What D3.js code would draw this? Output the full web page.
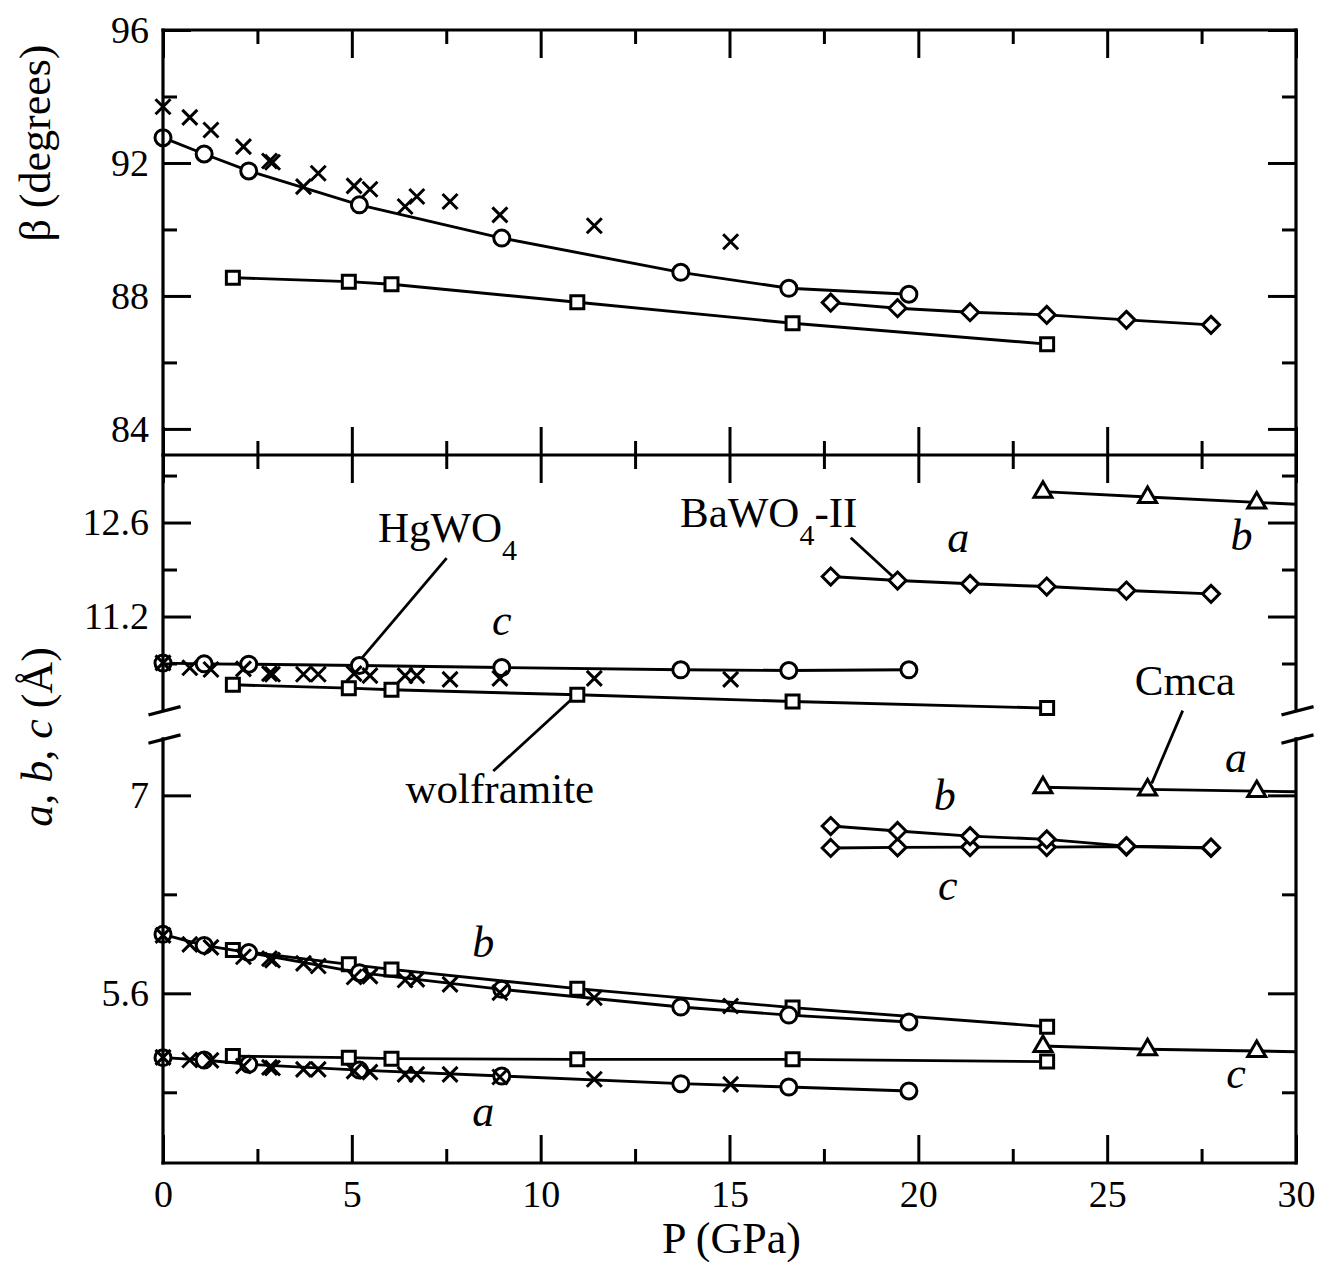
<!DOCTYPE html>
<html>
<head>
<meta charset="utf-8">
<script src="https://cdn.jsdelivr.net/npm/d3@7"></script>
<style>
body { margin: 0; background: #fff; }
svg text { font-family: "Liberation Serif", "Times New Roman", serif; fill: #000; }
</style>
</head>
<body>
<div id="myfigure"></div>
<script>
// values (P in GPa)

// HgWO4, no line (crosses)
var pCross = [0, 0.71, 1.27, 2.13, 2.82, 2.9, 3.72, 4.11, 5.06, 5.48, 6.41, 6.72, 7.6, 8.92, 11.42, 15.03];
var betaCross = [93.69, 93.37, 92.99, 92.49, 92.06, 92.02, 91.29, 91.69, 91.31, 91.21, 90.69, 90.99, 90.84, 90.44, 90.11, 89.63];
var cCross = [10.51, 10.436, 10.41, 10.42, 10.35, 10.34, 10.34, 10.34, 10.35, 10.32, 10.32, 10.32, 10.264, 10.279, 10.279, 10.264];
var bCross = [6.01, 5.946, 5.925, 5.859, 5.845, 5.835, 5.812, 5.793, 5.715, 5.722, 5.694, 5.699, 5.663, 5.605, 5.569, 5.51];
var aCross = [5.147, 5.128, 5.126, 5.086, 5.076, 5.072, 5.062, 5.062, 5.05, 5.043, 5.027, 5.027, 5.027, 5.008, 4.992, 4.956];

// HgWO4 (circles)
var pCircle = [0, 1.09, 2.27, 5.2, 8.97, 13.71, 16.57, 19.75];
var betaCircle = [92.76, 92.27, 91.76, 90.74, 89.74, 88.71, 88.23, 88.05];
var cCircle = [10.506, 10.495, 10.49, 10.47, 10.44, 10.406, 10.396, 10.406];
var bCircle = [6.017, 5.939, 5.888, 5.746, 5.628, 5.503, 5.446, 5.397];
var aCircle = [5.145, 5.128, 5.098, 5.057, 5.015, 4.961, 4.937, 4.909];

// wolframite (squares)
var pSquare = [1.85, 4.92, 6.05, 10.97, 16.67, 23.41];
var betaSquare = [88.55, 88.43, 88.35, 87.81, 87.18, 86.55];
var cSquare = [10.183, 10.133, 10.108, 10.034, 9.934, 9.836];
var bSquare = [5.906, 5.805, 5.769, 5.633, 5.499, 5.364];
var aSquare = [5.156, 5.145, 5.138, 5.133, 5.133, 5.117];

// BaWO4-II (diamonds)
var pDiamond = [17.68, 19.45, 21.37, 23.4, 25.51, 27.75];
var betaDiamond = [87.8, 87.63, 87.51, 87.43, 87.28, 87.13];
var aDiamond = [11.796, 11.736, 11.687, 11.647, 11.587, 11.538];
var bDiamond = [6.783, 6.748, 6.712, 6.689, 6.641, 6.63];
var cDiamond = [6.628, 6.632, 6.634, 6.634, 6.638, 6.628];

// Cmca (triangles), last point lies past the right edge
var pTriangle = [23.3, 26.07, 28.96, 31.5];
var bTriangle = [13.06, 12.98, 12.9, 12.83];
var aTriangle = [7.057, 7.042, 7.03, 7.018];
var cTriangle = [5.227, 5.204, 5.192, 5.18];

// ticks
var xMajor = [0, 5, 10, 15, 20, 25, 30];
var xMinor = [2.5, 7.5, 12.5, 17.5, 22.5, 27.5];
var betaMajor = [84, 88, 92, 96];
var betaMinor = [86, 90, 94];
var highMajor = [11.2, 12.6];
var highMinor = [10.5, 11.9, 13.3];
var lowMajor = [5.6, 7];
var lowMinor = [4.9, 6.3];

var width = 1324;
var height = 1262;
var left = 163, right = 1296;
var top1 = 30, mid = 455, bottom = 1163;
var breakHigh = 710.5, breakLow = 738.8;

var svg = d3.select("#myfigure").
    append("svg").
    attr("width", width).
    attr("height", height);

var x = d3.scaleLinear().domain([0, 30]).range([left, right]);
var yBeta = d3.scaleLinear().domain([83.2, 96]).range([mid + 0.5, top1]);
var yHigh = d3.scaleLinear().domain([9.8, 13.6]).range([breakHigh, mid + 0.4]);
var yLow = d3.scaleLinear().domain([4.4, 7.4]).range([bottom, breakLow]);

svg.append("clipPath").attr("id", "clip").
    append("rect").attr("x", 0).attr("y", 0).
    attr("width", right).attr("height", height);

var shapes = {
    circle: d3.symbol(d3.symbolCircle, Math.PI * 8 * 8)(),
    square: "M-6.5,-6.5H6.5V6.5H-6.5Z",
    diamond: "M0,-8.5L8.5,0L0,8.5L-8.5,0Z",
    triangle: "M0,-10L9,5.5L-9,5.5Z",
    cross: "M-7.5,-7.5L7.5,7.5M7.5,-7.5L-7.5,7.5"
};

function drawSeries(ps, vs, y, shape, withLine) {
    var pts = ps.map(function (p, i) { return [p, vs[i]]; });
    var g = svg.append("g").attr("clip-path", "url(#clip)");

    if (withLine) {
        g.append("path").
            datum(pts).
            attr("fill", "none").
            attr("stroke", "#000").
            attr("stroke-width", 2.9).
            attr("d", d3.line().
                x(function (d) { return x(d[0]); }).
                y(function (d) { return y(d[1]); }));
    }

    g.selectAll("path.mark").
        data(pts).
        enter().
        append("path").
        attr("class", "mark").
        attr("d", shapes[shape]).
        attr("transform", function (d) {
            return "translate(" + x(d[0]) + "," + y(d[1]) + ")";
        }).
        attr("fill", shape == "cross" ? "none" : "#fff").
        attr("stroke", "#000").
        attr("stroke-width", 3);
}

// top panel: beta
drawSeries(pSquare, betaSquare, yBeta, "square", true);
drawSeries(pCircle, betaCircle, yBeta, "circle", true);
drawSeries(pDiamond, betaDiamond, yBeta, "diamond", true);
drawSeries(pCross, betaCross, yBeta, "cross", false);

// bottom panel, upper part
drawSeries(pTriangle, bTriangle, yHigh, "triangle", true);
drawSeries(pDiamond, aDiamond, yHigh, "diamond", true);
drawSeries(pSquare, cSquare, yHigh, "square", true);
drawSeries(pCircle, cCircle, yHigh, "circle", true);
drawSeries(pCross, cCross, yHigh, "cross", false);

// bottom panel, lower part
drawSeries(pTriangle, aTriangle, yLow, "triangle", true);
drawSeries(pTriangle, cTriangle, yLow, "triangle", true);
drawSeries(pDiamond, cDiamond, yLow, "diamond", true);
drawSeries(pDiamond, bDiamond, yLow, "diamond", true);
drawSeries(pSquare, bSquare, yLow, "square", true);
drawSeries(pSquare, aSquare, yLow, "square", true);
drawSeries(pCircle, bCircle, yLow, "circle", true);
drawSeries(pCircle, aCircle, yLow, "circle", true);
drawSeries(pCross, bCross, yLow, "cross", false);
drawSeries(pCross, aCross, yLow, "cross", false);

// axes, all ticks point inwards
function axis(gen, scale, values, size, labels, tx, ty) {
    var a = gen(scale).
        tickValues(values).
        tickSize(-size).
        tickPadding(labels ? 14 : 0).
        tickFormat(labels ? d3.format("") : function () { return ""; });

    var g = svg.append("g").
        attr("transform", "translate(" + tx + "," + ty + ")").
        call(a);

    g.select(".domain").remove();
    g.selectAll("line").attr("stroke", "#000").attr("stroke-width", 3);
    g.selectAll("text").attr("font-size", 38);
    return g;
}

function xAxes(yTop, yBottom, labels) {
    axis(d3.axisTop, x, xMajor, 28, false, 0, yTop);
    axis(d3.axisTop, x, xMinor, 14, false, 0, yTop);
    var g = axis(d3.axisBottom, x, xMajor, 28, labels, 0, yBottom);
    axis(d3.axisBottom, x, xMinor, 14, false, 0, yBottom);
    if (labels) {
        g.selectAll("text").attr("y", 17);
    }
}

function yAxes(scale, major, minor) {
    axis(d3.axisLeft, scale, major, 28, true, left, 0);
    axis(d3.axisLeft, scale, minor, 14, false, left, 0);
    axis(d3.axisRight, scale, major, 28, false, right, 0);
    axis(d3.axisRight, scale, minor, 14, false, right, 0);
}

xAxes(top1, mid, false);
xAxes(mid, bottom, true);
yAxes(yBeta, betaMajor, betaMinor);
yAxes(yHigh, highMajor, highMinor);
yAxes(yLow, lowMajor, lowMinor);

// frame with the break in the lower panel
var frame = [
    [[left, top1], [right, top1]],
    [[left, mid], [right, mid]],
    [[left, bottom], [right, bottom]],
    [[left, top1], [left, breakHigh]],
    [[left, breakLow], [left, bottom]],
    [[right, top1], [right, breakHigh]],
    [[right, breakLow], [right, bottom]]
];
[left, right].forEach(function (ax) {
    [breakHigh, breakLow].forEach(function (by) {
        frame.push([[ax - 13, by + 4], [ax + 16, by - 3.5]]);
    });
});

svg.append("g").
    selectAll("line").
    data(frame).
    enter().
    append("line").
    attr("x1", function (d) { return d[0][0]; }).
    attr("y1", function (d) { return d[0][1]; }).
    attr("x2", function (d) { return d[1][0]; }).
    attr("y2", function (d) { return d[1][1]; }).
    attr("stroke", "#000").
    attr("stroke-width", 3.2).
    attr("stroke-linecap", "square");

// leader lines, in data units
var leaders = [
    [[7.51, 12.07, yHigh], [5.26, 10.577, yHigh]],
    [[8.745, 7.172, yLow], [10.82, 9.967, yHigh]],
    [[18.21, 12.374, yHigh], [19.33, 11.793, yHigh]],
    [[27.0, 7.599, yLow], [26.18, 7.085, yLow]]
];

svg.append("g").
    selectAll("line").
    data(leaders).
    enter().
    append("line").
    attr("x1", function (d) { return x(d[0][0]); }).
    attr("y1", function (d) { return d[0][2](d[0][1]); }).
    attr("x2", function (d) { return x(d[1][0]); }).
    attr("y2", function (d) { return d[1][2](d[1][1]); }).
    attr("stroke", "#000").
    attr("stroke-width", 2.8);

// italic a, b, c labels
var letters = [
    ["c", 8.97, 10.925, yHigh],
    ["a", 21.06, 12.166, yHigh],
    ["b", 28.56, 12.191, yHigh],
    ["a", 28.41, 7.164, yLow],
    ["b", 20.7, 6.896, yLow],
    ["c", 20.78, 6.26, yLow],
    ["b", 8.48, 5.859, yLow],
    ["a", 8.48, 4.662, yLow],
    ["c", 28.41, 4.928, yLow]
];

svg.append("g").
    selectAll("text").
    data(letters).
    enter().
    append("text").
    attr("x", function (d) { return x(d[1]); }).
    attr("y", function (d) { return d[3](d[2]); }).
    attr("text-anchor", "middle").
    attr("font-size", 44).
    attr("font-style", "italic").
    text(function (d) { return d[0]; });

var hg = svg.append("text").
    attr("x", x(5.69)).attr("y", yHigh(12.315)).
    attr("font-size", 43);
hg.append("tspan").text("HgWO");
hg.append("tspan").attr("font-size", 30).attr("dy", 18).text("4");

var ba = svg.append("text").
    attr("x", x(13.69)).attr("y", yHigh(12.529)).
    attr("font-size", 43);
ba.append("tspan").text("BaWO");
ba.append("tspan").attr("font-size", 30).attr("dy", 18).text("4");
ba.append("tspan").attr("dy", -18).text("-II");

svg.append("text").
    attr("x", x(27.06)).attr("y", yHigh(10.031)).
    attr("text-anchor", "middle").
    attr("font-size", 43).
    text("Cmca");

svg.append("text").
    attr("x", x(8.92)).attr("y", yLow(6.944)).
    attr("text-anchor", "middle").
    attr("font-size", 43).
    text("wolframite");

// axis titles
svg.append("text").
    attr("x", (left + right) / 2 + 2).
    attr("y", 1253).
    attr("text-anchor", "middle").
    attr("font-size", 44).
    text("P (GPa)");

svg.append("text").
    attr("transform", "translate(50," + (top1 + 113) + ") rotate(-90)").
    attr("text-anchor", "middle").
    attr("font-size", 44).
    text("\u03b2 (degrees)");

var yt = svg.append("text").
    attr("transform", "translate(52,737) rotate(-90)").
    attr("text-anchor", "middle").
    attr("font-size", 44);
yt.append("tspan").attr("font-style", "italic").text("a, b, c");
yt.append("tspan").text(" (\u00c5)");
</script>
</body>
</html>
